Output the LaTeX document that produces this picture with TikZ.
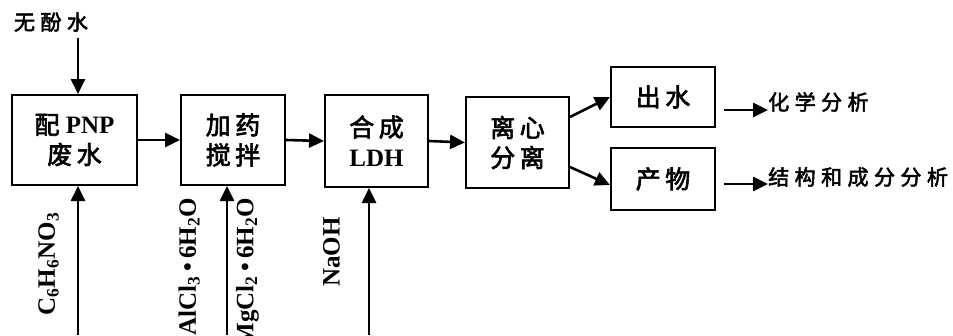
\documentclass[tikz,border=0pt]{standalone}
\usepackage{fontspec}
\setmainfont{Liberation Serif}
\newfontfamily\cjk{Noto Sans CJK SC}[LetterSpace=26, FakeBold=2.5]
\newfontfamily\cjkbox{Noto Sans CJK SC}[LetterSpace=18, FakeBold=2.5]
\newcommand{\zh}[1]{{\mdseries\cjkbox #1}}
\usetikzlibrary{arrows.meta}
\tikzset{
  box/.style={draw, line width=2pt, inner sep=0pt, align=center,
    font=\bfseries\fontsize{25pt}{30pt}\selectfont},
  arr/.style={line width=2.6pt, -{Triangle[length=15pt,width=14pt]}},
  cn/.style={inner sep=0pt, font=\cjk\fontsize{21pt}{30pt}\selectfont},
  chem/.style={inner sep=0pt, rotate=90, font=\bfseries\fontsize{25pt}{25pt}\selectfont}
}
\begin{document}
\begin{tikzpicture}[x=1pt,y=-1pt]
\useasboundingbox (0,0) rectangle (953,335);
\clip (0,0) rectangle (953,335);
\fill[white] (0,0) rectangle (953,335);
% boxes
\node[box, minimum width=125pt, minimum height=90pt] (b1) at (74.5,140) {\zh{配} PNP\\\zh{废水}};
\node[box, minimum width=104pt, minimum height=90pt] (b2) at (233,140) {\zh{加药}\\\zh{搅拌}};
\node[box, minimum width=103pt, minimum height=92pt] (b3) at (376.5,141) {\zh{合成}\\LDH};
\node[box, minimum width=103pt, minimum height=91pt] (b4) at (517.5,142.5) {\zh{离心}\\\zh{分离}};
\node[box, minimum width=104pt, minimum height=60pt] (b5) at (663,97) {\zh{出水}};
\node[box, minimum width=104pt, minimum height=62pt] (b6) at (663,179) {\zh{产物}};
% texts
\node[cn] (t0) at (51,22) {无酚水};
\node[cn, anchor=west] (t1) at (768,102) {化学分析};
\node[cn, anchor=west] (t2) at (768,177) {结构和成分分析};
% main chain
\draw[arr] (b1.east) -- (b2.west);
\draw[arr] (b2.east) -- (b3.west);
\draw[arr] (b3.east) -- (b4.west);
\draw[arr] ([yshift=25.5pt]b4.east) -- (b5.west);
\draw[arr] ([yshift=-24.5pt]b4.east) -- ([yshift=-6pt]b6.west);
% top input
\coordinate (c0) at (78,38);
\draw[arr] (c0) -- (c0 |- b1.north);
% outputs
\coordinate (o1) at (724,110);
\coordinate (o2) at (724,184);
\draw[arr] (o1) -- (o1 -| t1.west);
\draw[arr] (o2) -- (o2 -| t2.west);
% bottom inputs
\coordinate (i1) at (78,335);
\coordinate (i2) at (227,335);
\coordinate (i3) at (369,335);
\draw[arr] (i1) -- (i1 |- b1.south);
\draw[arr] (i2) -- (i2 |- b2.south);
\draw[arr] (i3) -- (i3 |- b3.south);
% chemical labels
\node[chem, anchor=south] (l1) at (59,264) {C\textsubscript{6}H\textsubscript{6}NO\textsubscript{3}};
\node[chem, anchor=south east] (l2) at (200,198) {AlCl\textsubscript{3}\,\textbullet\,6H\textsubscript{2}O};
\node[chem, anchor=south east] (l3) at (259,198) {MgCl\textsubscript{2}\,\textbullet\,6H\textsubscript{2}O};
\node[chem, anchor=south] (l4) at (340,252) {NaOH};
\end{tikzpicture}
\end{document}
